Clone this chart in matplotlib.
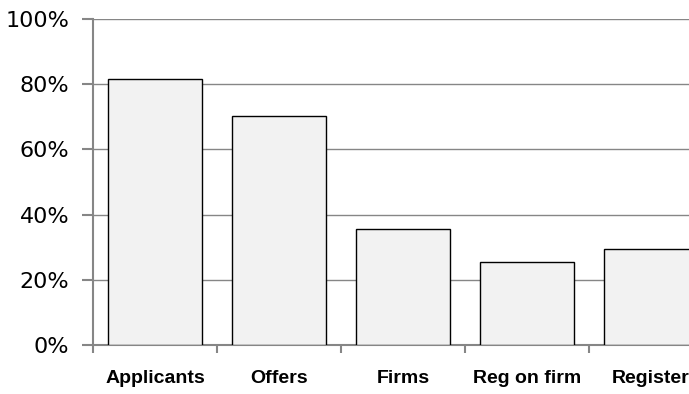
import matplotlib

matplotlib.use("Agg")
import matplotlib.pyplot as plt
from matplotlib.ticker import FuncFormatter, FixedLocator

categories = ["Applicants", "Offers", "Firms", "Reg on firm", "Register"]
shares = [81.6, 70.2, 35.7, 25.5, 29.4]
y_ticks = [0, 20, 40, 60, 80, 100]

grid_col = "#868686"

fig = plt.figure(figsize=(6.89, 3.94), dpi=100)
# right edge of the plot runs past the figure, as in the original (cut off)
ax = fig.add_axes([0.135, 0.1244, 0.9, 0.8274])

x = range(len(categories))
ax.bar(x, shares, width=0.76, color="#f2f2f2", edgecolor="black", lw=1.0, zorder=3)

ax.set_xlim(-0.5, len(categories) - 0.5)
ax.set_ylim(0, 100)
ax.set_yticks(y_ticks)
ax.yaxis.set_major_formatter(FuncFormatter(lambda v, _: f"{v:.0f}%"))
ax.yaxis.grid(True, color=grid_col, lw=1.0, zorder=0)

ax.set_xticks(list(x))
ax.set_xticklabels(categories, fontfamily="Liberation Sans", fontweight="bold", fontsize=14)
ax.tick_params(axis="x", length=0, pad=18)
ax.xaxis.set_minor_locator(FixedLocator([i - 0.5 for i in range(len(categories) + 1)]))
ax.tick_params(axis="x", which="minor", length=6, width=1.5, color=grid_col)
ax.tick_params(axis="y", length=8, width=1.5, color=grid_col, labelsize=16, pad=9)

for s in ["top", "right"]:
    ax.spines[s].set_visible(False)
for s in ["left", "bottom"]:
    ax.spines[s].set_color(grid_col)
    ax.spines[s].set_linewidth(1.5)

fig.savefig("out.png", dpi=100)
